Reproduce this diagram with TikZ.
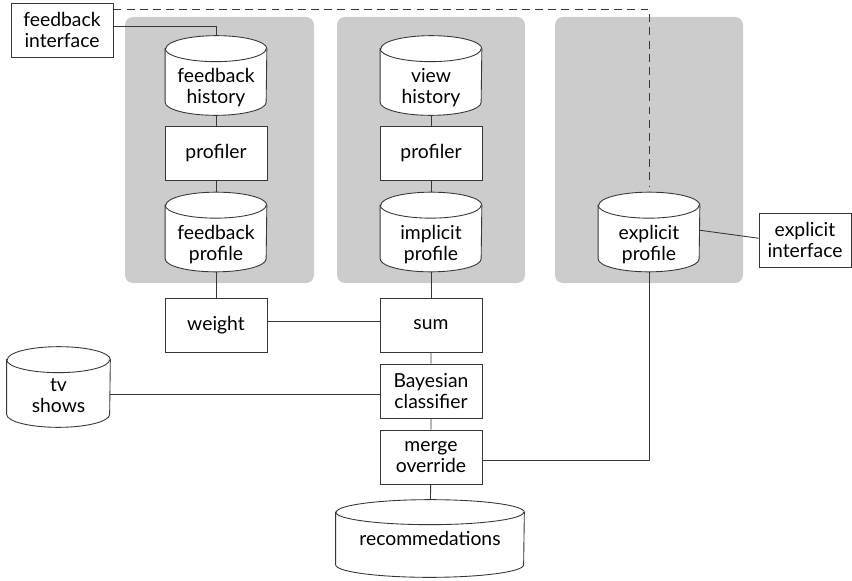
\documentclass[tikz,border=0pt]{standalone}
\usepackage{fontspec}
\setmainfont{Lato}
\usetikzlibrary{backgrounds}
\definecolor{panelgray}{RGB}{204,204,204}
\definecolor{linegray}{RGB}{55,55,55}
\tikzset{
  panel/.style={fill=panelgray, draw=none, rounded corners=0.16cm},
  procbox/.style={draw=linegray, fill=white, line width=0.5pt, align=center,
    minimum width=2.04cm, minimum height=1.08cm, inner sep=1pt,
    font=\fontsize{11}{12}\selectfont},
  store/.style={draw=none, inner sep=0pt, minimum width=2.02cm, minimum height=1.58cm},
  storetext/.style={align=center, yshift=-7pt, font=\fontsize{11}{12}\selectfont},
  link/.style={draw=linegray, line width=0.5pt},
}
\newcommand\drum[3]{%
  \filldraw[link, fill=white] ([yshift=-#3]#1.north west) -- ([yshift=#3]#1.south west)
    arc[start angle=180, end angle=360, x radius=#2, y radius=#3]
    -- ([yshift=-#3]#1.north east)
    arc[start angle=0, end angle=180, x radius=#2, y radius=#3] -- cycle;
  \draw[link] ([yshift=-#3]#1.north west)
    arc[start angle=180, end angle=360, x radius=#2, y radius=#3];
}
\begin{document}
\begin{tikzpicture}[x=0.02cm, y=-0.02cm]
\useasboundingbox (0,0) rectangle (852,581);
\node[procbox] (fbint) at (62,30) {feedback\\interface};
\node[store, label={[storetext]center:feedback\\history}] (fbhist) at (216,75.5) {};
\node[procbox] (prof1) at (216,153) {profiler};
\node[store, label={[storetext]center:feedback\\profile}] (fbprof) at (216,232) {};
\node[store, label={[storetext]center:view\\history}] (vhist) at (431,75.5) {};
\node[procbox] (prof2) at (431,153) {profiler};
\node[store, label={[storetext]center:implicit\\profile}] (improf) at (431,232) {};
\node[store, label={[storetext]center:explicit\\profile}] (exprof) at (649,232) {};
\node[procbox, minimum width=1.84cm] (exint) at (805,240) {explicit\\interface};
\node[procbox] (weight) at (216,325) {weight};
\node[procbox] (sum) at (431,325) {sum};
\node[procbox] (bayes) at (431,391) {Bayesian\\classifier};
\node[procbox] (merge) at (431,457) {merge\\override};
\node[store, minimum width=2.06cm, minimum height=1.6cm,
  label={[storetext, yshift=2pt]center:tv\\shows}] (tv) at (58.5,387) {};
\node[store, minimum width=3.76cm, minimum height=1.54cm,
  label={[storetext, yshift=7pt]center:recommedations}] (rec) at (430,538.5) {};
\begin{scope}[on background layer]
\fill[panel] (125,17) rectangle (314,283);
\fill[panel] (337,17) rectangle (525,283);
\fill[panel] (555,17) rectangle (743,283);
\foreach \n in {fbhist,fbprof,vhist,improf,exprof} {\drum{\n}{1.01cm}{0.26cm}}
\drum{tv}{1.03cm}{0.26cm}
\drum{rec}{1.88cm}{0.25cm}
\end{scope}
\draw[link] ([yshift=2pt]fbint.east) -| (fbhist.north);
\draw[link, dash pattern=on 4.5pt off 3pt] ([yshift=-4pt]fbint.north east) -| ([yshift=3pt]exprof.north);
\draw[link] (fbhist) -- (prof1) -- (fbprof);
\draw[link] (vhist) -- (prof2) -- (improf);
\draw[link] (fbprof) -- (weight);
\draw[link] (improf) -- (sum);
\draw[link] ([yshift=1pt]exprof.east) -- ([yshift=1pt]exint.west);
\draw[link] ([yshift=2pt]weight.east) -- ([yshift=2pt]sum.west);
\draw[link] (sum) -- (bayes) -- (merge) -- (rec);
\draw[link] ([yshift=-2pt]bayes.west) -- ([yshift=-2pt]bayes.west -| tv.east);
\draw[link] ([yshift=-2pt]merge.east) -| (exprof.south);
\end{tikzpicture}
\end{document}
